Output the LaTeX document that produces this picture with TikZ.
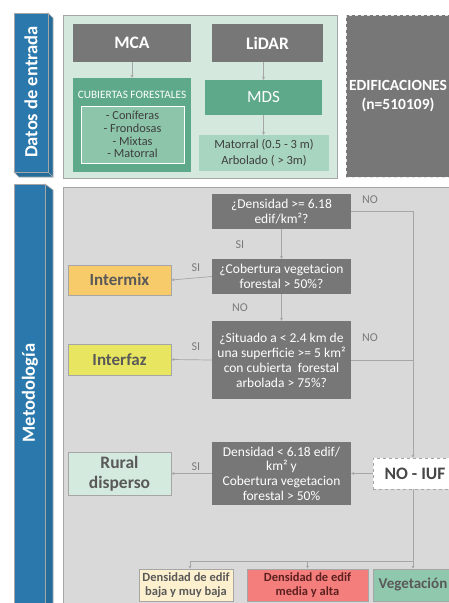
\documentclass[tikz,border=0pt]{standalone}
\usepackage{fontspec}
\setmainfont{Carlito}
\usetikzlibrary{arrows.meta}
\definecolor{tabblue}{HTML}{2B79AC}
\definecolor{tabside}{HTML}{246C9A}
\definecolor{darkbox}{HTML}{777777}
\definecolor{txtgray}{HTML}{595959}
\definecolor{labgray}{HTML}{7A7A7A}
\definecolor{mint}{HTML}{D4E8DD}
\definecolor{greenA}{HTML}{5EA98A}
\definecolor{greenB}{HTML}{8CC5AA}
\definecolor{greenC}{HTML}{A8D5C0}
\definecolor{panelgray}{HTML}{D9D9D9}
\definecolor{linegray}{HTML}{A6A6A6}
\definecolor{interm}{HTML}{F8CB6A}
\definecolor{interf}{HTML}{E8E660}
\definecolor{rural}{HTML}{D5EADF}
\definecolor{cream}{HTML}{FDF0CF}
\definecolor{salmon}{HTML}{F47E7C}
\definecolor{vegc}{HTML}{8FC8AD}
\tikzset{
  box/.style={rectangle, inner sep=1pt, align=center},
  dec/.style={box, fill=darkbox, text=white, font=\fontsize{13.5}{15}\selectfont, minimum width=139pt},
  header/.style={box, fill=darkbox, text=white, font=\fontsize{17.5}{21}\selectfont\bfseries},
  result/.style={box, draw=linegray, line width=0.8pt, text=txtgray, font=\fontsize{17}{20}\selectfont\bfseries, minimum width=103pt},
  bottombox/.style={box, draw=linegray, line width=0.8pt, text=txtgray, font=\fontsize{12.5}{14.5}\selectfont\bfseries, minimum height=32pt},
  conn/.style={draw=linegray, line width=0.7pt},
  arr/.style={conn, -{Stealth[length=3pt,width=3pt]}},
  lab/.style={text=labgray, font=\fontsize{12}{14}\selectfont, inner sep=0pt},
  tabtext/.style={text=white, font=\fontsize{18.5}{22}\selectfont\bfseries, rotate=90},
}
\begin{document}
\begin{tikzpicture}[x=1pt,y=-1pt]
\useasboundingbox (0,0) rectangle (449,603);
\clip (0,0) rectangle (449,603);
\fill[white] (0,0) rectangle (449,603);

% tab 1
\filldraw[fill=tabside, draw=linegray, line width=0.6pt] (48,13) -- (53,18) -- (53,177) -- (48,172) -- cycle;
\filldraw[fill=tabside, draw=linegray, line width=0.6pt] (14,172) -- (48,172) -- (53,177) -- (19,177) -- cycle;
\filldraw[fill=tabblue, draw=linegray, line width=0.6pt] (14,13) rectangle (48,172);
\node[tabtext] (t1) at (31,92) {Datos de entrada};

% tab 2
\filldraw[fill=tabside, draw=linegray, line width=0.6pt] (45,184) -- (53,190) -- (53,610) -- (45,610) -- cycle;
\filldraw[fill=tabblue, draw=linegray, line width=0.6pt] (14,184) rectangle (45,610);
\node[tabtext] (t2) at (30,393) {Metodología};

% top panel
\node[box, fill=mint, draw=linegray, line width=0.8pt, minimum width=274pt, minimum height=163pt] (top) at (200,96.5) {};
\node[header, minimum width=118pt, minimum height=38pt] (mca) at (132,43) {MCA};
\node[header, minimum width=111pt, minimum height=38pt] (lidar) at (267.5,43) {LiDAR};
\node[box, fill=greenA, minimum width=118pt, minimum height=94pt] (cub) at (132,125) {};
\node[box, text=white, font=\fontsize{11.3}{13}\selectfont] (cubt) at (132,95) {CUBIERTAS FORESTALES};
\node[box, fill=greenB, draw=white, line width=0.8pt, minimum width=103pt, minimum height=57pt, text=txtgray!70!black, font=\fontsize{12.3}{12.8}\selectfont] (inner) at (132.5,134.5) {- Coníferas\\- Frondosas\\- Mixtas\\- Matorral};
\node[box, fill=greenA, text=white, minimum width=117pt, minimum height=35pt, font=\fontsize{17}{20}\selectfont] (mds) at (263.5,97.5) {MDS};
\node[box, fill=greenC, minimum width=130pt, minimum height=36pt, text=txtgray!70!black, font=\fontsize{12.5}{15.5}\selectfont] (mat) at (264,153) {Matorral (0.5 - 3 m)\\Arbolado ( > 3m)};
\draw[arr] (mca.south) -- (mca.south |- cub.north);
\draw[arr] (lidar.south -| mds.north) -- (mds.north);
\draw[arr] (mds.south) -- (mds.south |- mat.north);

% edificaciones
\node[box, fill=darkbox, draw=white!80!darkbox, dashed, line width=0.6pt, minimum width=114pt, minimum height=162pt] (edif) at (403,96) {};
\node[box, text=white, font=\fontsize{15.5}{19.5}\selectfont\bfseries] (edift) at (398,96) {EDIFICACIONES\\(n=510109)};

% lower panel
\node[box, fill=panelgray, draw=linegray, line width=0.8pt, minimum width=400pt, minimum height=430pt] (low) at (263,402) {};

\node[dec, minimum height=35pt] (d1) at (281.5,211.5) {¿Densidad >= 6.18\\edif/km²?};
\node[dec, minimum height=35pt] (d2) at (281.5,276.5) {¿Cobertura vegetacion\\forestal > 50\%?};
\node[dec, minimum height=78pt] (d3) at (281.5,360) {¿Situado a < 2.4 km de\\una superficie >= 5 km²\\con cubierta\ \ forestal\\arbolada > 75\%?};
\node[dec, minimum height=63pt, font=\fontsize{13.5}{14.7}\selectfont] (d4) at (281.5,473.5) {Densidad < 6.18 edif/\\km² y\\Cobertura vegetacion\\forestal > 50\%};

\node[result, fill=interm, minimum height=30pt] (intermix) at (119.5,280) {Intermix};
\node[result, fill=interf, minimum height=31pt] (interfaz) at (119.5,359.5) {Interfaz};
\node[result, fill=rural, minimum height=43pt, font=\fontsize{17.5}{20}\selectfont\bfseries] (rural) at (119.5,473.5) {Rural\\disperso};
\node[box, fill=white, draw=linegray, dashed, line width=0.8pt, minimum width=84pt, minimum height=31pt, text=txtgray!80!black, font=\fontsize{17.5}{20}\selectfont\bfseries] (noiuf) at (415,473.5) {NO - IUF};

\node[bottombox, fill=cream, minimum width=94pt] (b1) at (186,585) {Densidad de edif\\baja y muy baja};
\node[bottombox, fill=salmon, minimum width=121pt, text=txtgray!60!red!60!black] (b2) at (307.5,585) {Densidad de edif\\media y alta};
\node[bottombox, fill=vegc, minimum width=80pt, font=\fontsize{15}{17}\selectfont\bfseries] (b3) at (413,585) {Vegetación};

% connectors
\coordinate (c1) at (413,211.5);
\coordinate (c2) at (413,561);
\coordinate (c3) at (190,561);
\draw[arr] (d1.south) -- (d2.north);
\draw[arr] (d2.south) -- (d3.north);
\draw[arr] (d2.west) -- (intermix.east);
\draw[arr] (d3.west) -- (interfaz.east);
\draw[arr] (d4.west) -- (rural.east);
\draw[arr] (d1.east) -- (c1) -- (c1 |- noiuf.north);
\draw[conn] (d3.east) -- (c1 |- d3.east);
\draw[arr] (noiuf.west) -- (d4.east);
\draw[conn] (c1 |- noiuf.south) -- (c2) -- (c3);
\draw[arr] (c3) -- (c3 |- b1.north);
\draw[arr] (b2.north |- c2) -- (b2.north);
\draw[arr] (c2) -- (c2 |- b3.north);

% labels
\node[lab] (l1) at (240,245) {SI};
\node[lab] (l2) at (240,308) {NO};
\node[lab] (l3) at (196,268) {SI};
\node[lab] (l4) at (196,347) {SI};
\node[lab] (l5) at (196,467) {SI};
\node[lab] (l6) at (370,200) {NO};
\node[lab] (l7) at (370,338) {NO};
\end{tikzpicture}
\end{document}
